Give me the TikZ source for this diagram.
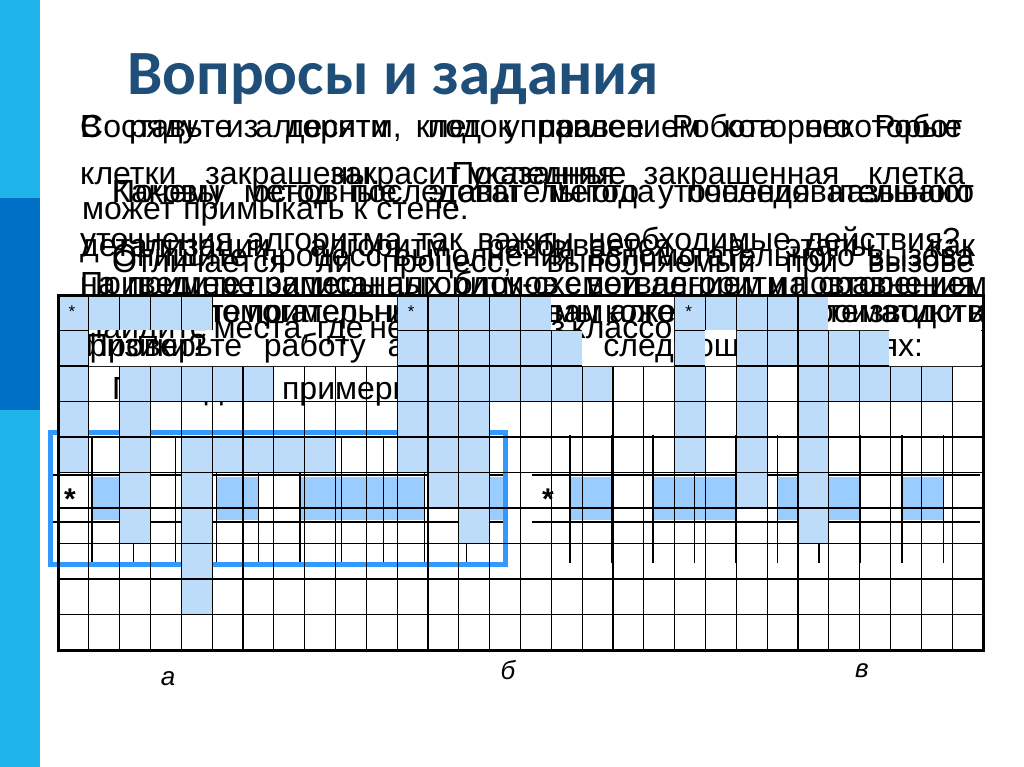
\documentclass[tikz,border=0pt]{standalone}
\usepackage{fontspec}
\setmainfont{Liberation Sans}
\newfontfamily\titlefont{Carlito}
\definecolor{sidecyan}{HTML}{1FB4E9}
\definecolor{sideblue}{HTML}{0070C6}
\definecolor{titleblue}{HTML}{1F4E79}
\definecolor{celllight}{HTML}{BDDCFA}
\definecolor{cellmid}{HTML}{99CCFF}
\definecolor{frameblue}{HTML}{3399FF}
\newcommand{\lcell}[2]{\fill[celllight] ({58+#1*30.833},{295+#2*35.5}) rectangle ++(30.833,35.5);}
\newcommand{\jline}[2]{\makebox[#1pt][s]{#2}}
\begin{document}
\begin{tikzpicture}[x=1pt,y=-1pt,
  txt/.style={font=\fontsize{32}{32}\selectfont,inner sep=0pt,anchor=base west},
  lbl/.style={font=\fontsize{26}{26}\selectfont\itshape,inner sep=0pt,anchor=base},
  gridline/.style={line width=1.3pt},
  tapeline/.style={line width=1.3pt}]
\useasboundingbox (0,0) rectangle (1024,767);
\fill[white] (0,0) rectangle (1024,767);
% side bar
\fill[sidecyan] (0,0) rectangle (40,767);
\fill[sideblue] (0,198) rectangle (40,410);
% title
\node[anchor=base west,inner sep=0pt,text=titleblue,font=\titlefont\bfseries\fontsize{63}{63}\selectfont] (title) at (127,95) {Вопросы и задания};
% overlapping question texts
\node[txt] (q1a) at (80,138) {\jline{882}{В ряду из десяти клеток правее Робота некоторые}};
\node[txt] (q1b) at (80,138) {\jline{882}{Составьте алгоритм, под управлением которого Робот}};
\node[txt] (q2a) at (80,185) {\jline{885}{клетки закрашены. Последняя закрашенная клетка}};
\node[txt] (q2b) at (330,185) {закрасит указанные};
\node[txt] (q3a) at (112,203) {\jline{862}{Почему метод последовательного уточнения называют}};
\node[txt] (q3b) at (112,203) {\jline{862}{Каковы основные этапы метода последовательного}};
\node[txt] (q4) at (82,219) {может примыкать к стене.};
\node[txt] (q5a) at (80,250) {\jline{880}{уточнения алгоритма так важны необходимые действия?}};
\node[txt] (q5b) at (80,256) {\jline{895}{детализации алгоритм разбивается на этапы, как}};
\node[txt] (q6a) at (112,266) {\jline{862}{Опишите процесс выполнения вспомогательного вызова}};
\node[txt] (q6b) at (112,272) {\jline{862}{Отличается ли процесс, выполняемый при вызове}};
\node[txt] (q7a) at (80,294) {\jline{895}{на примере записанных блок-схемой алгоритма сравнения}};
\node[txt] (q7b) at (80,294) {\jline{895}{Приведите примеры алгоритмов с ветвлением и повторением}};
% tape a
\foreach \k in {0,3,5,6,7,9}
  {\fill[cellmid] ({92+\k*41.6},477) rectangle ++(41.6,43);}
\foreach \k in {0,...,9}
  {\draw[tapeline] ({92+\k*41.6},437) -- ({92+\k*41.6},563);}
\draw[tapeline] (50,475) -- (506,475) (50,522) -- (506,522);
\draw[frameblue,line width=5pt] (50.5,432.5) rectangle (505.5,564.5);
\node[anchor=base,inner sep=0pt,font=\fontsize{30}{30}\selectfont\bfseries] (stara) at (70,509) {*};
% tape b, c
\foreach \k in {0,2,3,5,6,8}
  {\fill[cellmid] ({570+\k*41.5},477) rectangle ++(41.5,43);}
\foreach \k in {0,...,9}
  {\draw[tapeline] ({570+\k*41.5},435) -- ({570+\k*41.5},563);}
\draw[tapeline] (532,475) -- (980,475) (532,522) -- (980,522);
\node[anchor=base,inner sep=0pt,font=\fontsize{30}{30}\selectfont\bfseries] (starb) at (548,509) {*};
% text under the cells
\node[txt] (q8) at (112,399) {Приведите примеры};
% cells a
\foreach \r in {0,...,4} {\lcell{0}{\r}}
\foreach \c in {1,...,4} {\lcell{\c}{0}}
\foreach \c in {3,...,6} {\lcell{\c}{2}}
\foreach \r in {2,...,6} {\lcell{2}{\r}}
\foreach \c in {5,...,8} {\lcell{\c}{4}}
\foreach \r in {4,...,8} {\lcell{4}{\r}}
% cells b
\foreach \c in {11,...,15} {\lcell{\c}{0}\lcell{\c}{1}}
\lcell{16}{1}
\foreach \c in {11,...,17} {\lcell{\c}{2}}
\foreach \r in {3,4} {\lcell{11}{\r}\lcell{12}{\r}\lcell{13}{\r}}
\lcell{12}{5}\lcell{13}{5}\lcell{13}{6}
% cells c
\foreach \r in {0,...,4} {\lcell{20}{\r}}
\foreach \c in {21,...,24} {\lcell{\c}{0}}
\foreach \c in {22,...,26} {\lcell{\c}{1}}
\foreach \c in {24,...,28} {\lcell{\c}{2}}
\foreach \r in {2,...,5} {\lcell{22}{\r}}
\foreach \r in {3,...,6} {\lcell{24}{\r}}
% grid
\foreach \i in {0,...,30}
  {\draw[gridline] ({58+\i*30.833},295) -- ({58+\i*30.833},650);}
\foreach \j in {0,...,10}
  {\draw[gridline] (58,{295+\j*35.5}) -- (983,{295+\j*35.5});}
\draw[line width=3pt] (58,295) rectangle (983,650);
\foreach \c/\s in {0/a,11/b,20/c}
  {\node[anchor=base,inner sep=0pt,font=\fontsize{17}{17}\selectfont] (top\s) at ({72+\c*30.833},317) {*};}
% text windows in the top rows
\fill[white] (213,297) rectangle (397,366) (89,330) rectangle (213,366)
  (551,297) rectangle (674,330) (582,330) rectangle (674,366)
  (828,297) rectangle (981,330) (705,330) rectangle (736,366) (889,330) rectangle (981,366);
\begin{scope}
\clip (213,297) rectangle (397,366) (89,330) rectangle (213,366)
  (551,297) rectangle (674,330) (582,330) rectangle (674,366)
  (828,297) rectangle (981,330) (705,330) rectangle (736,366) (889,330) rectangle (981,366);
\node[txt] (w1a) at (80,322) {\jline{895}{Приведите примеры известных вам алгоритмов математики и}};
\node[txt] (w1b) at (80,322) {\jline{895}{Какие вспомогательные алгоритмы кожевенного производства}};
\node[txt] (w2) at (80,338) {\jline{600}{Найдите места, где некоторые из классов}};
\node[txt] (w3a) at (80,356) {физики?};
\node[txt] (w3b) at (85,356) {\jline{838}{Проверьте работу алгоритма в следующих случаях:}};
\end{scope}
% picture labels
\node[lbl] (la) at (168,685) {а};
\node[lbl] (lb) at (508,679) {б};
\node[lbl] (lc) at (862,677) {в};
\end{tikzpicture}
\end{document}
